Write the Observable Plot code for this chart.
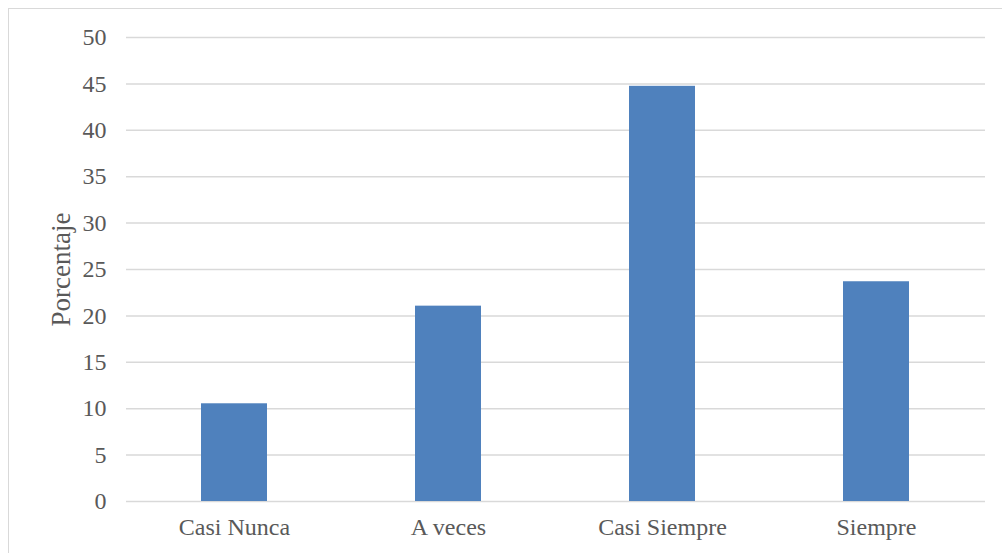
<!DOCTYPE html>
<html><head><meta charset="utf-8">
<script src="https://cdn.jsdelivr.net/npm/d3@7"></script>
<script src="https://cdn.jsdelivr.net/npm/@observablehq/plot@0.6"></script>
<style>
body{margin:0;background:#fff;overflow:hidden}
#wrap{position:relative;width:1002px;height:553px}
#border{position:absolute;left:8px;top:8px;width:1100px;height:700px;border:1px solid #d9d9d9;pointer-events:none}
</style></head><body>
<div id="wrap"><div id="border"></div></div>
<script>
const categories = ["Casi Nunca", "A veces", "Casi Siempre", "Siempre"];
const values = [10.53, 21.05, 44.74, 23.68];
const yTicks = [0, 5, 10, 15, 20, 25, 30, 35, 40, 45, 50];
const data = categories.map((c, i) => ({cat: c, val: values[i]}));

const chart = Plot.plot({
  width: 1002, height: 553,
  marginLeft: 126, marginRight: 17, marginTop: 37, marginBottom: 52,
  style: {fontFamily: "'Liberation Serif', 'Times New Roman', serif", fontSize: "24px", color: "#595959", background: "transparent"},
  x: {domain: categories, paddingInner: 0.69, paddingOuter: 0.345, label: null},
  y: {domain: [0, 50], ticks: yTicks, label: null},
  marks: [
    Plot.gridY(yTicks, {stroke: "#d9d9d9", strokeOpacity: 1, strokeWidth: 1.5}),
    Plot.barY(data, {x: "cat", y: "val", fill: "#4f81bd"}),
    Plot.axisY(yTicks, {tickSize: 0, tickPadding: 20, fontSize: 24, fill: "#595959"}),
    Plot.axisX({tickSize: 0, tickPadding: 16, fontSize: 24, fill: "#595959"}),
    Plot.text(["Porcentaje"], {frameAnchor: "left", textAnchor: "middle", lineAnchor: "middle", dx: -65, rotate: -90, fontSize: 27, fill: "#595959"})
  ]
});
document.getElementById("wrap").prepend(chart);
chart.style.position = "absolute"; chart.style.left = "0"; chart.style.top = "0";
</script></body></html>
